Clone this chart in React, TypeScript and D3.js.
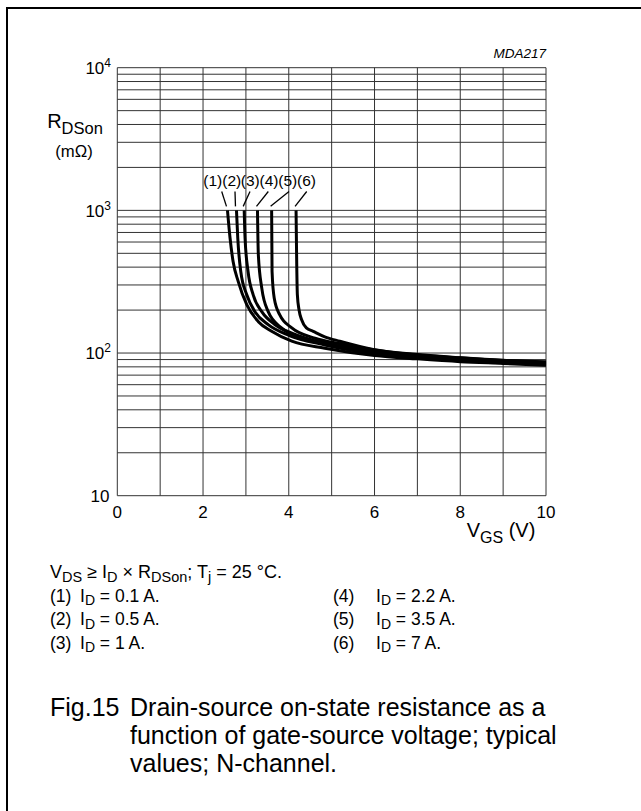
import React from "react";
import * as d3 from "d3";

// ---- data ----
const X_TICKS = [0, 2, 4, 6, 8, 10];
const Y_TICK_EXP = [1, 2, 3, 4];
const CURVE_LABELS = ["(1)", "(2)", "(3)", "(4)", "(5)", "(6)"];
const ID_VALUES = ["0.1", "0.5", "1", "2.2", "3.5", "7"];

const v1 = [2.57, 2.63, 2.7, 2.82, 3.02, 3.29, 3.6, 4.07, 4.84, 6, 7, 8, 9, 10];
const r1 = [1000, 640, 440, 318, 218, 166, 142, 121, 108, 96, 91, 87, 84.5, 82];
const v2 = [2.78, 2.81, 2.88, 3.02, 3.21, 3.52, 4.0, 4.84, 6, 7, 8, 9, 10];
const r2 = [1000, 640, 373, 256, 195, 158, 133, 114, 99, 93, 88.5, 85.5, 83];
const v3 = [2.96, 2.98, 3.05, 3.17, 3.37, 3.68, 4.1, 4.84, 6, 7, 8, 9, 10];
const r3 = [1000, 640, 373, 256, 195, 158, 137, 117, 101, 94, 89.5, 86.5, 84];
const v4 = [3.27, 3.29, 3.37, 3.52, 3.83, 4.3, 4.84, 6, 7, 8, 9, 10];
const r4 = [1000, 488, 285, 195, 150, 127, 117, 103, 96, 91, 87.5, 85];
const v5 = [3.6, 3.61, 3.66, 3.79, 4.07, 4.61, 5.2, 6, 7, 8, 9, 10];
const r5 = [1000, 373, 243, 185, 150, 127, 116, 105, 97.5, 92.5, 88.5, 86];
const v6 = [4.17, 4.2, 4.24, 4.3, 4.41, 4.57, 4.84, 5.19, 5.97, 6.82, 8, 9, 10];
const r6 = [1000, 257, 200, 171, 150, 142, 130, 121, 106, 98, 92.5, 89, 87];

const SERIES_V = [v1, v2, v3, v4, v5, v6];
const SERIES_R = [r1, r2, r3, r4, r5, r6];

// ---- layout ----
const W = 641;
const H = 811;
const PL = 117.3, PR = 546, PT = 67.7, PB = 495.7;
const LABEL_X = [212.7, 231.7, 250.3, 269, 287.7, 306.5];
const LABEL_LINE_TOP_X = [221.7, 235, 250, 268.3, 289, 306.7];
const FONT = "'Liberation Sans', Arial, Helvetica, sans-serif";

export default function App() {
  const x = d3.scaleLinear().domain([0, 10]).range([PL, PR]);
  const y = d3.scaleLog().domain([10, 10000]).range([PB, PT]);
  const line = d3
    .line<[number, number]>()
    .x((d) => x(d[0]))
    .y((d) => y(d[1]))
    .curve(d3.curveMonotoneX);

  const yGrid = y.ticks();
  const xGrid = d3.range(0, 11);
  const gridColor = "#333";

  return (
    <svg
      width={W}
      height={H}
      style={{ position: "absolute", left: 0, top: 0, background: "#fff" }}
      fontFamily={FONT}
    >
      <rect x={0} y={0} width={W} height={H} fill="#fff" />
      <rect x={7} y={8} width={1000} height={1000} fill="none" stroke="#000" strokeWidth={2} />

      {/* grid */}
      {yGrid.map((v, i) => (
        <line key={"h" + i} x1={PL} x2={PR} y1={y(v)} y2={y(v)} stroke={gridColor} strokeWidth={1} />
      ))}
      {xGrid.map((v) => (
        <line key={"v" + v} x1={x(v)} x2={x(v)} y1={PT} y2={PB} stroke={gridColor} strokeWidth={1} />
      ))}

      {/* curves */}
      {SERIES_V.map((vs, i) => (
        <path
          key={"c" + i}
          d={line(vs.map((v, j) => [v, SERIES_R[i][j]] as [number, number])) || ""}
          fill="none"
          stroke="#000"
          strokeWidth={3}
        />
      ))}

      {/* curve labels */}
      {CURVE_LABELS.map((t, i) => (
        <g key={"l" + i}>
          <text x={LABEL_X[i]} y={186} fontSize={15.5} textAnchor="middle">
            {t}
          </text>
          <line
            x1={LABEL_LINE_TOP_X[i]}
            y1={191.5}
            x2={x(SERIES_V[i][0]) - 1}
            y2={y(SERIES_R[i][0]) - 4}
            stroke="#000"
            strokeWidth={1.3}
          />
        </g>
      ))}

      {/* y tick labels */}
      {Y_TICK_EXP.map((e) => (
        <text key={"yt" + e} x={e === 1 ? 109.5 : 111} y={y(Math.pow(10, e)) + 6.3} fontSize={17} textAnchor="end">
          10
          {e > 1 ? (
            <tspan dy={-7} fontSize={12}>
              {e}
            </tspan>
          ) : null}
        </text>
      ))}

      {/* x tick labels */}
      {X_TICKS.map((v) => (
        <text key={"xt" + v} x={x(v)} y={518} fontSize={17} textAnchor="middle">
          {v}
        </text>
      ))}

      {/* axis titles */}
      <text x={75} y={127.5} fontSize={20} textAnchor="middle">
        R
        <tspan dy={6.5} fontSize={16.5}>DSon</tspan>
      </text>
      <text x={74} y={156.5} fontSize={16.7} textAnchor="middle">
        (mΩ)
      </text>
      <text x={466.7} y={537} fontSize={20}>
        V
        <tspan dy={6} fontSize={16}>GS</tspan>
        <tspan dy={-6}> (V)</tspan>
      </text>

      <text x={546} y={58} fontSize={13.5} fontStyle="italic" textAnchor="end">
        MDA217
      </text>

      {/* footnote */}
      <text x={50} y={578} fontSize={18}>
        V<tspan dy={3.5} fontSize={14.5}>DS</tspan>
        <tspan dy={-3.5}> ≥ I</tspan>
        <tspan dy={3.5} fontSize={14.5}>D</tspan>
        <tspan dy={-3.5}> × R</tspan>
        <tspan dy={3.5} fontSize={14.5}>DSon</tspan>
        <tspan dy={-3.5}>; T</tspan>
        <tspan dy={3.5} fontSize={14.5}>j</tspan>
        <tspan dy={-3.5}> = 25 °C.</tspan>
      </text>

      {ID_VALUES.map((val, i) => {
        const col = i < 3 ? 0 : 1;
        const row = i % 3;
        const bx = col === 0 ? 50 : 333;
        const tx = col === 0 ? 80 : 376;
        const by = 601.5 + row * 23.5;
        return (
          <g key={"id" + i}>
            <text x={bx} y={by} fontSize={17.5}>
              {CURVE_LABELS[i]}
            </text>
            <text x={tx} y={by} fontSize={17.5}>
              I<tspan dy={3.5} fontSize={14}>D</tspan>
              <tspan dy={-3.5}>{" = " + val + " A."}</tspan>
            </text>
          </g>
        );
      })}

      {/* caption */}
      <text x={50} y={716} fontSize={25}>
        Fig.15
      </text>
      <text x={130} y={716} fontSize={25}>
        Drain-source on-state resistance as a
      </text>
      <text x={130} y={744} fontSize={25}>
        function of gate-source voltage; typical
      </text>
      <text x={130} y={772} fontSize={25}>
        values; N-channel.
      </text>
    </svg>
  );
}
